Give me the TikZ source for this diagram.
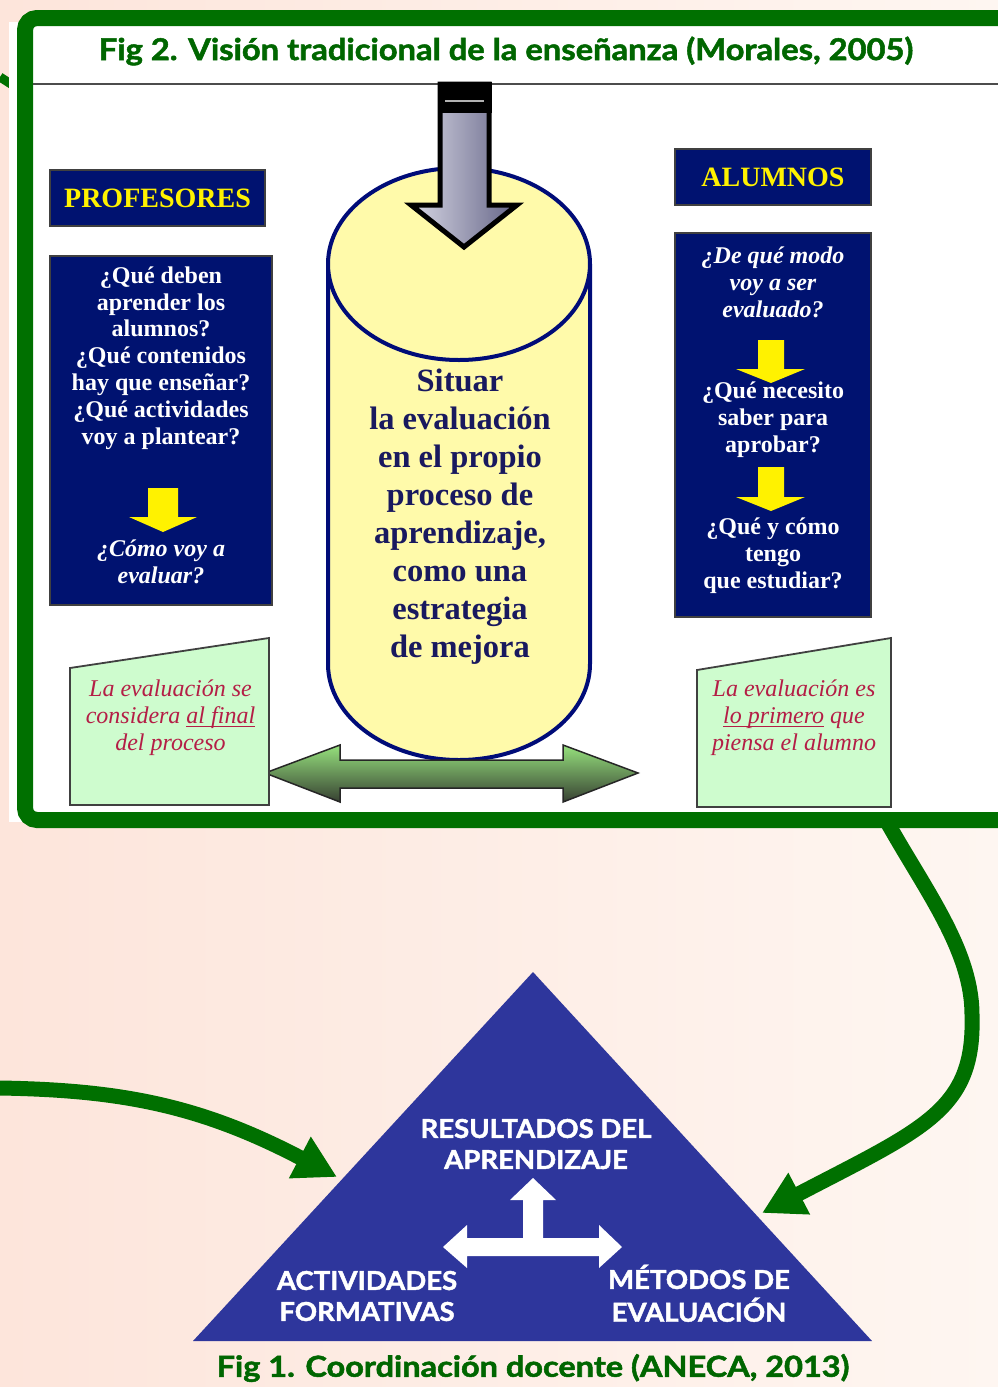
\documentclass[tikz,border=0pt]{standalone}
\usepackage{fontspec}
\setmainfont{Liberation Serif}
\newfontfamily\sansb{Lato}[BoldFeatures={FakeBold=1.6}]
\usetikzlibrary{arrows.meta,shapes.geometric}
\newcommand\myul[1]{\setbox0\hbox{#1}\rlap{\rule[-3.5pt]{\wd0}{1.6pt}}\box0\relax}
\definecolor{bgL}{RGB}{253,229,219}
\definecolor{bgR}{RGB}{254,246,241}
\definecolor{frameG}{RGB}{0,112,0}
\definecolor{titleG}{RGB}{0,102,0}
\definecolor{navyB}{RGB}{0,18,112}
\definecolor{cylF}{RGB}{255,250,170}
\definecolor{cylD}{RGB}{0,12,120}
\definecolor{cylT}{RGB}{25,25,95}
\definecolor{trapF}{RGB}{206,252,206}
\definecolor{trapT}{RGB}{180,30,70}
\definecolor{triB}{RGB}{46,54,156}
\definecolor{arrL}{RGB}{215,215,228}
\definecolor{arrR}{RGB}{100,100,135}
\definecolor{grT}{RGB}{150,225,125}
\definecolor{grB}{RGB}{55,65,50}
\tikzset{
 navybox/.style={draw=black!75, line width=1.2, fill=navyB, inner sep=0},
 headtxt/.style={text=yellow, font=\bfseries\fontsize{28}{30}\selectfont, inner sep=0},
 qtext/.style={text=white, align=center, font=\bfseries\fontsize{24}{26.8}\selectfont, inner sep=0},
 qitext/.style={text=white, align=center, font=\bfseries\itshape\fontsize{24}{27}\selectfont, inner sep=0},
 yarrow/.style={fill=yellow},
 trap/.style={fill=trapF, draw=black!75, line width=1.8},
 traptext/.style={text=trapT, align=center, font=\itshape\fontsize{24}{27}\selectfont, inner sep=0},
 tritext/.style={text=white, align=center, font=\sansb\bfseries\fontsize{26}{32}\selectfont, inner sep=0},
 captxt/.style={text=titleG, inner sep=0},
 greenconn/.style={draw=frameG, line width=15, -{Triangle[width=44pt,length=42pt]}},
}
\begin{document}
\begin{tikzpicture}[x=1pt,y=-1pt]
\useasboundingbox (0,0) rectangle (998,1387);
\clip (0,0) rectangle (998,1387);
\shade[left color=bgL,right color=bgR] (0,0) rectangle (998,1387);

% coordinates for connectors
\coordinate (tlStart) at (0,77);
\coordinate (tlEnd) at (25,93);
\coordinate (lStart) at (0,1088);
\coordinate (lTip) at (337,1177);
\coordinate (rStart) at (886,820);
\coordinate (rTip) at (762,1213);

% top-left connector piece
\draw[frameG, line width=9] (tlStart) -- (tlEnd);

% white backing and frame
\fill[white] (9,22) rectangle (25,822);
\fill[white] (25,18) rectangle (1030,820);
\draw[frameG, line width=16, rounded corners=12] (25,18) rectangle (1030,820);
\draw[black!70, line width=1.5] (33,84) -- (998,84);

\node[captxt] (title) at (506,51) {\scalebox{1.09}[1]{\sansb\bfseries\fontsize{30}{32}\selectfont Fig 2. Visión tradicional de la enseñanza (Morales, 2005)}};

% PROFESORES
\node[navybox, minimum width=215, minimum height=56] (prof) at (157.5,198) {};
\node[headtxt] (profT) at (prof) {PROFESORES};
\node[navybox, minimum width=222, minimum height=349] (profBox) at (161,430.5) {};
\node[qtext] (profQ) at (161,358) {¿Qué deben\\aprender los\\alumnos?\\¿Qué contenidos\\hay que enseñar?\\¿Qué actividades\\voy a plantear?};
\fill[yarrow] (148,488) -- (178,488) -- (178,517) -- (197,517) -- (163,532) -- (129,517) -- (148,517) -- cycle;
\node[qitext] (profE) at (161,562) {¿Cómo voy a\\evaluar?};

% ALUMNOS
\node[navybox, minimum width=196, minimum height=56] (alum) at (773,177) {};
\node[headtxt] (alumT) at (alum) {ALUMNOS};
\node[navybox, minimum width=196, minimum height=384] (alumBox) at (773,425) {};
\node[qitext] (alumQ1) at (773,282) {¿De qué modo\\voy a ser\\evaluado?};
\fill[yarrow] (758,340) -- (784,340) -- (784,369) -- (805,369) -- (771,383) -- (736,369) -- (758,369) -- cycle;
\node[qtext] (alumQ2) at (773,419.5) {¿Qué necesito\\saber para\\aprobar?};
\fill[yarrow] (758,467) -- (784,467) -- (784,497) -- (805,497) -- (771,511) -- (736,497) -- (758,497) -- cycle;
\node[qtext] (alumQ3) at (773,556) {¿Qué y cómo\\tengo\\que estudiar?};

% cylinder
\filldraw[fill=cylF, draw=cylD, line width=4]
  (328,264) -- (328,664) .. controls (328,717) and (386.6,760) .. (459,760)
  .. controls (531.4,760) and (590,717) .. (590,664) -- (590,264);
\filldraw[fill=cylF, draw=cylD, line width=4] (459,264) ellipse [x radius=131, y radius=96];
\node[text=cylT, align=center, inner sep=0, font=\bfseries\fontsize{32.5}{38}\selectfont] (cylT) at (460,517)
  {Situar\\la evaluación\\en el propio\\proceso de\\aprendizaje,\\como una\\estrategia\\de mejora};

% gray arrow
\path[draw=black, line width=5, left color=arrL, right color=arrR]
  (440,84) -- (489,84) -- (489,205) -- (517,205) -- (464,247) -- (411,205) -- (440,205) -- cycle;
\fill[black] (437.5,82) rectangle (491.5,113);
\draw[gray!60, line width=2] (445,101) -- (484,101);

% green double arrow
\path[draw=black!85, line width=1.5, top color=grT, bottom color=grB]
  (265,773) -- (340,745) -- (340,760) -- (563,760) -- (563,745) -- (638,773)
  -- (563,802) -- (563,788) -- (340,788) -- (340,802) -- cycle;

% trapezoids
\draw[trap] (70,668) -- (269,638) -- (269,805) -- (70,805) -- cycle;
\node[traptext] (trapL) at (170.5,718) {La evaluación se\\considera \myul{al final}\\del proceso};
\draw[trap] (697,670) -- (891,638) -- (891,807) -- (697,807) -- cycle;
\node[traptext] (trapR) at (794,718) {La evaluación es\\\myul{lo primero} que\\piensa el alumno};

% triangle
\coordinate (apex) at (533,972);
\coordinate (bR) at (872,1341);
\coordinate (bL) at (193,1341);
\fill[triB] (apex) -- (bR) -- (bL) -- cycle;
\fill[white] (523,1246) -- (523,1200) -- (510,1200) -- (533,1178) -- (556,1200) -- (543,1200) -- (543,1246) -- cycle;
\fill[white] (443,1247) -- (467,1225) -- (467,1238) -- (599,1238) -- (599,1225) -- (622,1247)
  -- (599,1268) -- (599,1256) -- (467,1256) -- (467,1268) -- cycle;
\node[tritext] (res) at (536,1147) {\scalebox{1.06}[1]{\begin{tabular}{@{}c@{}}RESULTADOS DEL\\[-1pt]APRENDIZAJE\end{tabular}}};
\node[tritext] (act) at (367,1299) {\scalebox{1.06}[1]{\begin{tabular}{@{}c@{}}ACTIVIDADES\\[-1pt]FORMATIVAS\end{tabular}}};
\node[tritext] (met) at (699,1298) {\scalebox{1.06}[1]{\begin{tabular}{@{}c@{}}MÉTODOS DE\\[-1pt]EVALUACIÓN\end{tabular}}};
\node[captxt] (cap) at (533,1368) {\scalebox{1.12}[1]{\sansb\bfseries\fontsize{29}{32}\selectfont Fig 1. Coordinación docente (ANECA, 2013)}};

% green connectors
\draw[greenconn] (lStart) .. controls (120,1090) and (200,1105) .. (lTip);
\draw[greenconn] (rStart) .. controls (925,890) and (972,950) .. (972,1015)
  .. controls (975,1110) and (925,1128) .. (rTip);
\end{tikzpicture}
\end{document}
